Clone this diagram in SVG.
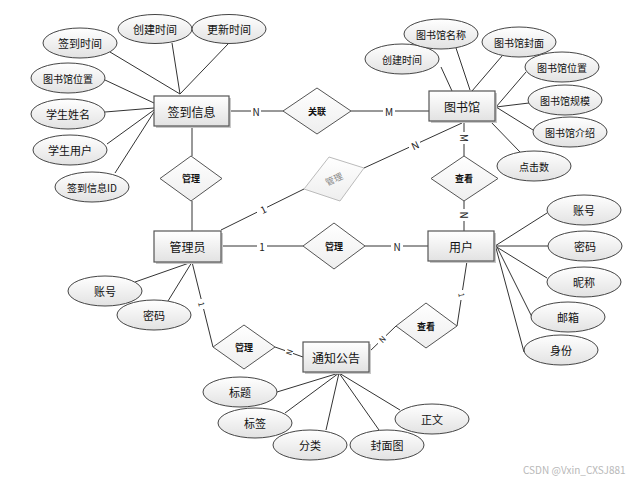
<svg xmlns="http://www.w3.org/2000/svg" width="644" height="480" viewBox="0 0 644 480">
<defs>
<linearGradient id="g" x1="0" y1="0" x2="0" y2="1">
<stop offset="0" stop-color="#ffffff"/>
<stop offset="1" stop-color="#e2e2e2"/>
</linearGradient>
<linearGradient id="gl" x1="0" y1="0" x2="0" y2="1">
<stop offset="0" stop-color="#ffffff"/>
<stop offset="1" stop-color="#eeeeee"/>
</linearGradient>
</defs>
<style>
text{font-family:"Noto Sans CJK SC","Liberation Sans",sans-serif;fill:#111;text-anchor:middle;dominant-baseline:central}
.ent rect.b{fill:url(#g);stroke:#555;stroke-width:1.2}
.ent rect.s{fill:#c8c8c8}
.ent text{font-size:12px}
.att ellipse{fill:url(#g);stroke:#444;stroke-width:1}
.att text{font-size:11px}
.rel polygon{fill:url(#gl);stroke:#555;stroke-width:1}
.rel text{font-size:9px;font-weight:bold}
.ghost polygon{fill:url(#gl);stroke:#bbb;stroke-width:1}
.ghost text{font-size:9px;fill:#888}
.lines line{stroke:#333;stroke-width:1}
.lab{font-size:10px;fill:#222}
.wm{font-size:10px;fill:#b8b8b8;text-anchor:start}
</style>
<rect width="644" height="480" fill="#ffffff"/>

<g class="lines" id="connectors">
<!-- 签到信息 attributes -->
<line x1="110" y1="52" x2="180" y2="94"/>
<line x1="172" y1="43" x2="180" y2="94"/>
<line x1="228" y1="44" x2="180" y2="94"/>
<line x1="105" y1="80" x2="154" y2="103"/>
<line x1="105" y1="112" x2="154" y2="108"/>
<line x1="107" y1="144" x2="154" y2="110"/>
<line x1="115" y1="173" x2="154" y2="112"/>
<!-- 签到信息 - 关联 - 图书馆 -->
<line x1="229" y1="111" x2="284" y2="111"/>
<line x1="351" y1="111" x2="429" y2="111"/>
<!-- 签到信息 - 管理 - 管理员 -->
<line x1="192" y1="126" x2="192" y2="156"/>
<line x1="192" y1="201" x2="192" y2="231"/>
<!-- 管理员 - gray 管理 - 图书馆 -->
<line x1="221" y1="230" x2="304" y2="189"/>
<line x1="364" y1="168" x2="462" y2="123"/>
<!-- 图书馆 attributes -->
<line x1="441" y1="67" x2="452" y2="91"/>
<line x1="456" y1="48" x2="470" y2="90"/>
<line x1="502" y1="56" x2="472" y2="91"/>
<line x1="526" y1="72" x2="496" y2="107"/>
<line x1="529" y1="103" x2="496" y2="107"/>
<line x1="533" y1="130" x2="496" y2="107"/>
<line x1="520" y1="152" x2="490" y2="121"/>
<!-- 图书馆 - 查看 - 用户 -->
<line x1="464" y1="121" x2="464" y2="156"/>
<line x1="464" y1="201" x2="464" y2="231"/>
<!-- 管理员 - 管理 - 用户 -->
<line x1="221" y1="246" x2="303" y2="246"/>
<line x1="365" y1="246" x2="428" y2="246"/>
<!-- 用户 attributes -->
<line x1="495" y1="246" x2="547" y2="213"/>
<line x1="495" y1="246" x2="548" y2="246"/>
<line x1="495" y1="246" x2="547" y2="278"/>
<line x1="497" y1="247" x2="532" y2="317"/>
<line x1="496" y1="248" x2="524" y2="352"/>
<!-- 管理员 attributes -->
<line x1="135" y1="282" x2="192" y2="262"/>
<line x1="168" y1="301" x2="192" y2="262"/>
<!-- 管理员 - 管理 - 通知公告 -->
<line x1="192" y1="262" x2="213" y2="347"/>
<line x1="275" y1="347" x2="303" y2="357"/>
<!-- 用户 - 查看 - 通知公告 -->
<line x1="467" y1="261" x2="457" y2="326"/>
<line x1="396" y1="326" x2="369" y2="352"/>
<!-- 通知公告 attributes -->
<line x1="277" y1="392" x2="339" y2="373"/>
<line x1="285" y1="413" x2="339" y2="373"/>
<line x1="326" y1="430" x2="339" y2="373"/>
<line x1="379" y1="430" x2="339" y2="373"/>
<line x1="400" y1="410" x2="339" y2="373"/>
</g>

<g id="cardinality">
<rect x="251" y="105" width="10" height="12" fill="#fff"/><text class="lab" x="256" y="111">N</text>
<rect x="383" y="105" width="12" height="12" fill="#fff"/><text class="lab" x="389" y="111">M</text>
<rect x="257" y="204" width="10" height="11" fill="#fff"/><text class="lab" x="263" y="209" transform="rotate(-26 263 209)">1</text>
<rect x="409" y="139" width="11" height="11" fill="#fff"/><text class="lab" x="415" y="145" transform="rotate(-25 415 145)">N</text>
<rect x="458" y="132" width="12" height="12" fill="#fff"/><text class="lab" x="464" y="138" transform="rotate(90 464 138)">M</text>
<rect x="459" y="209" width="10" height="12" fill="#fff"/><text class="lab" x="464" y="215" transform="rotate(90 464 215)">N</text>
<rect x="257" y="240" width="10" height="12" fill="#fff"/><text class="lab" x="262" y="246">1</text>
<rect x="391" y="240" width="12" height="12" fill="#fff"/><text class="lab" x="397" y="246">N</text>
<rect x="198" y="299" width="8" height="10" fill="#fff"/><text class="lab" x="202" y="304" transform="rotate(76 202 304)" style="font-size:8px">1</text>
<rect x="285" y="347" width="8" height="10" fill="#fff"/><text class="lab" x="289" y="352" transform="rotate(-70 289 352)" style="font-size:8px">N</text>
<rect x="458" y="290" width="8" height="10" fill="#fff"/><text class="lab" x="462" y="295" transform="rotate(81 462 295)" style="font-size:8px">1</text>
<rect x="378" y="334" width="8" height="10" fill="#fff"/><text class="lab" x="382" y="339" transform="rotate(-45 382 339)" style="font-size:8px">N</text>
</g>

<g id="e-qiandao" class="ent"><rect class="s" x="156" y="98" width="75" height="30"/><rect class="b" x="154" y="96" width="75" height="30"/><text x="191.5" y="111">签到信息</text></g>
<g id="e-tushuguan" class="ent"><rect class="s" x="431" y="93" width="66" height="30"/><rect class="b" x="429" y="91" width="66" height="30"/><text x="462" y="106">图书馆</text></g>
<g id="e-admin" class="ent"><rect class="s" x="156" y="233" width="67" height="31"/><rect class="b" x="154" y="231" width="67" height="31"/><text x="187.5" y="246.5">管理员</text></g>
<g id="e-user" class="ent"><rect class="s" x="430" y="233" width="66" height="30"/><rect class="b" x="428" y="231" width="66" height="30"/><text x="461" y="246">用户</text></g>
<g id="e-notice" class="ent"><rect class="s" x="305" y="344" width="66" height="30"/><rect class="b" x="303" y="342" width="66" height="30"/><text x="336" y="357">通知公告</text></g>

<g id="r-guanlian" class="rel"><polygon points="317,88 351,111 317,134 283,111"/><text x="317" y="111">关联</text></g>
<g id="r-guanli1" class="rel"><polygon points="191,156 222,178.5 191,201 160,178.5"/><text x="191" y="178.5">管理</text></g>
<g id="r-guanli-ghost" class="ghost"><polygon points="329,157 364,168 340,201 304,189"/><text x="334" y="179" transform="rotate(-25 334 179)">管理</text></g>
<g id="r-chakan1" class="rel"><polygon points="464,156 498,178.5 464,201 431,178.5"/><text x="464" y="178.5">查看</text></g>
<g id="r-guanli2" class="rel"><polygon points="334,223 365,246 334,269 303,246"/><text x="334" y="246">管理</text></g>
<g id="r-guanli3" class="rel"><polygon points="244,325 275,347 244,369 213,347"/><text x="244" y="347">管理</text></g>
<g id="r-chakan2" class="rel"><polygon points="426,303 457,326 426,348 396,326"/><text x="426" y="326">查看</text></g>

<g id="a-qiandaoshijian" class="att"><ellipse cx="80" cy="43" rx="37" ry="15"/><text x="80" y="43">签到时间</text></g>
<g id="a-chuangjian1" class="att"><ellipse cx="155" cy="29" rx="37" ry="14.5"/><text x="155" y="29">创建时间</text></g>
<g id="a-gengxin" class="att"><ellipse cx="229" cy="29" rx="37" ry="14.5"/><text x="229" y="29">更新时间</text></g>
<g id="a-weizhi1" class="att"><ellipse cx="68" cy="78" rx="37" ry="15"/><text x="68" y="78" style="font-size:10px">图书馆位置</text></g>
<g id="a-xingming" class="att"><ellipse cx="68" cy="114" rx="37" ry="15"/><text x="68" y="114">学生姓名</text></g>
<g id="a-xuesheng" class="att"><ellipse cx="70" cy="150" rx="37" ry="15"/><text x="70" y="150">学生用户</text></g>
<g id="a-qdid" class="att"><ellipse cx="92" cy="187" rx="37" ry="15"/><text x="92" y="187" style="font-size:10px">签到信息ID</text></g>

<g id="a-chuangjian2" class="att"><ellipse cx="402" cy="59" rx="37" ry="15"/><text x="402" y="59" style="font-size:10px">创建时间</text></g>
<g id="a-mingcheng" class="att"><ellipse cx="441" cy="34" rx="37" ry="15"/><text x="441" y="34" style="font-size:10px">图书馆名称</text></g>
<g id="a-fengmian" class="att"><ellipse cx="519" cy="42" rx="37" ry="15"/><text x="519" y="42" style="font-size:10px">图书馆封面</text></g>
<g id="a-weizhi2" class="att"><ellipse cx="562" cy="67" rx="37" ry="15"/><text x="562" y="67" style="font-size:10px">图书馆位置</text></g>
<g id="a-guimo" class="att"><ellipse cx="565" cy="100" rx="37" ry="15"/><text x="565" y="100" style="font-size:10px">图书馆规模</text></g>
<g id="a-jieshao" class="att"><ellipse cx="570" cy="132" rx="37" ry="15"/><text x="570" y="132" style="font-size:10px">图书馆介绍</text></g>
<g id="a-dianji" class="att"><ellipse cx="534" cy="166" rx="37" ry="15"/><text x="534" y="166" style="font-size:10px">点击数</text></g>

<g id="a-uzhanghao" class="att"><ellipse cx="584" cy="210" rx="37" ry="15"/><text x="584" y="210">账号</text></g>
<g id="a-umima" class="att"><ellipse cx="585" cy="246" rx="37" ry="15"/><text x="585" y="246">密码</text></g>
<g id="a-nicheng" class="att"><ellipse cx="584" cy="282" rx="37" ry="15"/><text x="584" y="282">昵称</text></g>
<g id="a-youxiang" class="att"><ellipse cx="568" cy="317" rx="37" ry="15"/><text x="568" y="317">邮箱</text></g>
<g id="a-shenfen" class="att"><ellipse cx="561" cy="350" rx="37" ry="15"/><text x="561" y="350">身份</text></g>

<g id="a-azhanghao" class="att"><ellipse cx="105" cy="291" rx="37" ry="15"/><text x="105" y="291">账号</text></g>
<g id="a-amima" class="att"><ellipse cx="154" cy="315" rx="37" ry="15"/><text x="154" y="315">密码</text></g>

<g id="a-biaoti" class="att"><ellipse cx="240" cy="392" rx="37" ry="15"/><text x="240" y="392">标题</text></g>
<g id="a-biaoqian" class="att"><ellipse cx="255" cy="423" rx="37" ry="15"/><text x="255" y="423">标签</text></g>
<g id="a-fenlei" class="att"><ellipse cx="310" cy="445" rx="37" ry="15"/><text x="310" y="445">分类</text></g>
<g id="a-fengmiantu" class="att"><ellipse cx="387" cy="445" rx="37" ry="15"/><text x="387" y="445">封面图</text></g>
<g id="a-zhengwen" class="att"><ellipse cx="432" cy="419" rx="37" ry="15"/><text x="432" y="419">正文</text></g>

<text class="wm" x="523" y="469">CSDN @Vxin_CXSJ881</text>
</svg>
